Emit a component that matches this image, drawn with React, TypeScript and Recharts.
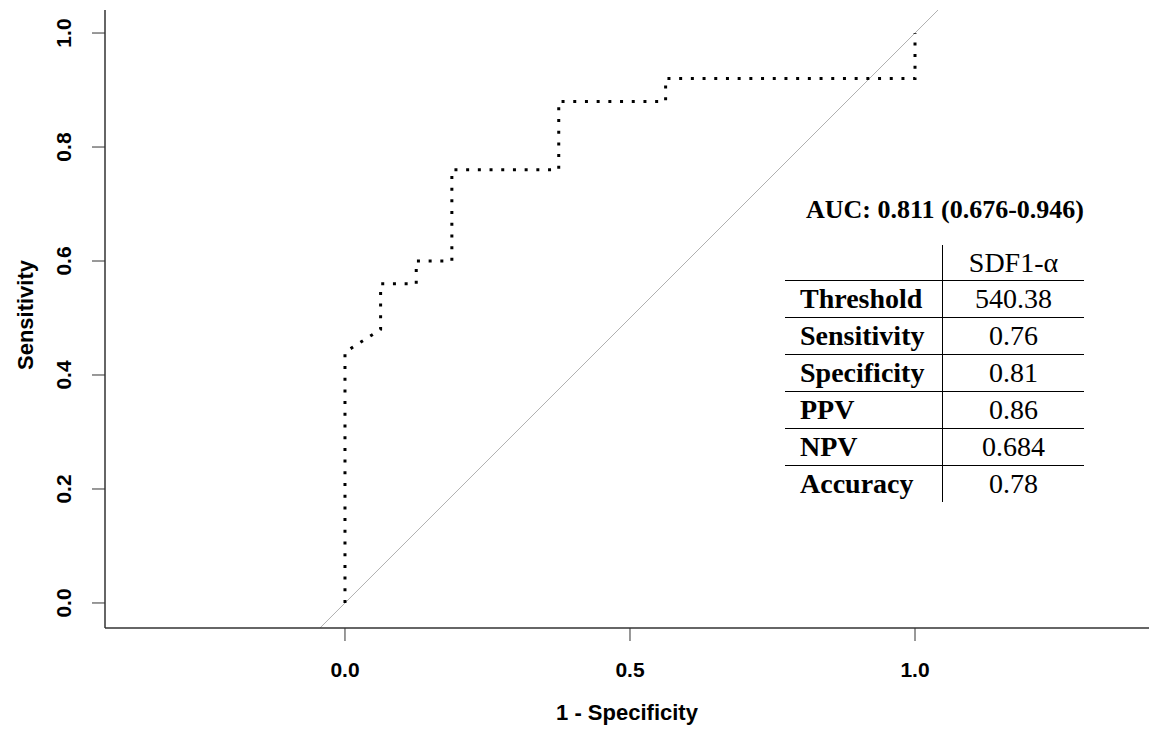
import { LineChart, Line, XAxis, YAxis, ReferenceLine } from 'recharts'

// ROC curve (1 - specificity vs sensitivity)
const fprValues = [0, 0, 0.0625, 0.0625, 0.125, 0.125, 0.1875, 0.1875, 0.375, 0.375, 0.5625, 0.5625, 1, 1]
const sensValues = [0, 0.44, 0.48, 0.56, 0.56, 0.6, 0.6, 0.76, 0.76, 0.88, 0.88, 0.92, 0.92, 1]

const xTicks = [0, 0.5, 1]
const yTicks = [0, 0.2, 0.4, 0.6, 0.8, 1]

const aucText = 'AUC: 0.811 (0.676-0.946)'
const tableHeader = 'SDF1-α'
const rowLabels = ['Threshold', 'Sensitivity', 'Specificity', 'PPV', 'NPV', 'Accuracy']
const rowValues = ['540.38', '0.76', '0.81', '0.86', '0.684', '0.78']

const X_DOMAIN: [number, number] = [-0.421, 1.4105]
const Y_DOMAIN: [number, number] = [-0.0439, 1.0404]

const data = fprValues.map((fpr, i) => ({ fpr, sens: sensValues[i] }))

const SANS = '"Liberation Sans", Arial, sans-serif'
const SERIF = '"Liberation Serif", "Times New Roman", serif'

const XTick = (props: any) => {
  const { x, y, payload } = props
  return (
    <text x={x} y={y + 26} textAnchor="middle" dominantBaseline="central"
      fontFamily={SANS} fontWeight="bold" fontSize={21} fill="#000">
      {Number(payload.value).toFixed(1)}
    </text>
  )
}

const YTick = (props: any) => {
  const { x, y, payload } = props
  const cx = x - 26
  return (
    <text x={cx} y={y} transform={`rotate(-90 ${cx} ${y})`} textAnchor="middle" dominantBaseline="central"
      fontFamily={SANS} fontWeight="bold" fontSize={21} fill="#000">
      {Number(payload.value).toFixed(1)}
    </text>
  )
}

const XTitle = (props: any) => {
  const vb = props.viewBox
  return (
    <text x={vb.x + vb.width / 2} y={vb.y + 84} textAnchor="middle" dominantBaseline="central"
      fontFamily={SANS} fontWeight="bold" fontSize={22} fill="#000">
      1 - Specificity
    </text>
  )
}

const YTitle = (props: any) => {
  const vb = props.viewBox
  const cx = vb.x + 25
  const cy = vb.y + vb.height / 2 - 4
  return (
    <text x={cx} y={cy} transform={`rotate(-90 ${cx} ${cy})`} textAnchor="middle" dominantBaseline="central"
      fontFamily={SANS} fontWeight="bold" fontSize={22} fill="#000">
      Sensitivity
    </text>
  )
}

const cellBase: React.CSSProperties = {
  height: 36,
  padding: 0,
  fontFamily: SERIF,
  fontSize: 28,
  lineHeight: '36px',
  color: '#000',
  whiteSpace: 'nowrap',
}

const App = () => {
  return (
    <div style={{ position: 'absolute', left: 0, top: 0, width: 1149, height: 729, background: '#fff' }}>
      <LineChart width={1149} height={729} data={data} margin={{ top: 10, right: 0, bottom: 0, left: 0 }}>
        <XAxis xAxisId="top" orientation="top" type="number" dataKey="fpr" domain={X_DOMAIN}
          allowDataOverflow height={0} tick={false} tickLine={false}
          axisLine={{ stroke: '#333', strokeWidth: 1.5 }} />
        <XAxis xAxisId="main" type="number" dataKey="fpr" domain={X_DOMAIN} allowDataOverflow
          ticks={xTicks} height={101} tickSize={13} tick={<XTick />}
          tickLine={{ stroke: '#333' }} axisLine={{ stroke: '#333', strokeWidth: 1.5 }}
          label={{ content: XTitle }} />
        <YAxis type="number" domain={Y_DOMAIN} allowDataOverflow ticks={yTicks} width={105}
          tickSize={13} tick={<YTick />} tickLine={{ stroke: '#333' }}
          axisLine={{ stroke: '#333', strokeWidth: 1.5 }} label={{ content: YTitle }} />
        <ReferenceLine xAxisId="main" ifOverflow="hidden" stroke="#b0b0b0" strokeWidth={1}
          segment={[{ x: Y_DOMAIN[0], y: Y_DOMAIN[0] }, { x: Y_DOMAIN[1], y: Y_DOMAIN[1] }]} />
        <Line xAxisId="main" type="linear" dataKey="sens" stroke="#000" strokeWidth={3}
          strokeDasharray="3 8.7" dot={false} activeDot={false} isAnimationActive={false} />
      </LineChart>

      <div style={{ position: 'absolute', left: 765, top: 196, width: 360, textAlign: 'center',
        fontFamily: SERIF, fontWeight: 'bold', fontSize: 26, lineHeight: '28px', color: '#000', whiteSpace: 'nowrap' }}>
        {aucText}
      </div>

      <table style={{ position: 'absolute', left: 785, top: 245, borderCollapse: 'collapse', borderSpacing: 0 }}>
        <tbody>
          <tr>
            <td style={{ ...cellBase, width: 157, height: 35, borderRight: '1.5px solid #000', borderBottom: '1.5px solid #000' }} />
            <td style={{ ...cellBase, width: 141, height: 35, lineHeight: '35px', textAlign: 'center', borderBottom: '1.5px solid #000' }}>
              {tableHeader}
            </td>
          </tr>
          {rowLabels.map((label, i) => {
            const last = i === rowLabels.length - 1
            const bottom = last ? 'none' : '1.5px solid #000'
            return (
              <tr key={label}>
                <td style={{ ...cellBase, fontWeight: 'bold', paddingLeft: 15, width: 142, borderRight: '1.5px solid #000', borderBottom: bottom }}>
                  {label}
                </td>
                <td style={{ ...cellBase, textAlign: 'center', borderBottom: bottom }}>
                  {rowValues[i]}
                </td>
              </tr>
            )
          })}
        </tbody>
      </table>
    </div>
  )
}

export default App
